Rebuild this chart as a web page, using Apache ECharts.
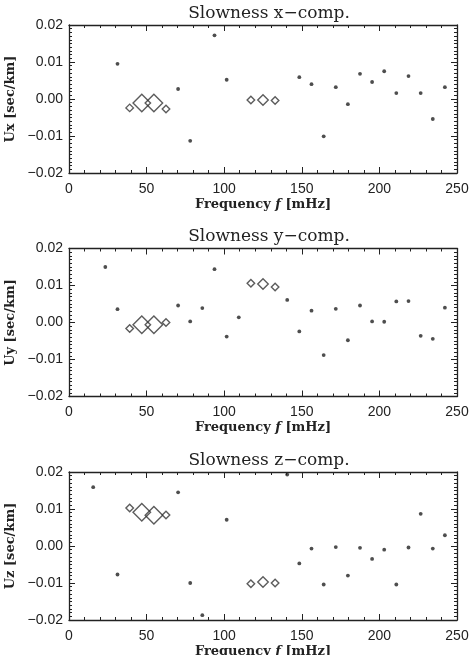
<!DOCTYPE html>
<html>
<head>
<meta charset="utf-8">
<script src="https://cdn.jsdelivr.net/npm/echarts@6/dist/echarts.min.js"></script>
<style>
  html, body { margin: 0; padding: 0; background: #fff; }
  #main { width: 471px; height: 655px; }
</style>
</head>
<body>
<div id="main"></div>
<script>
// frequency bins (mHz)
var freqX = [31.25, 70.3, 78.1, 93.75, 101.6, 148.4, 156.25, 164.1, 171.9, 179.7, 187.5, 195.3, 203.1, 210.9, 218.75, 226.6, 234.4, 242.2];
var dotsX = [0.0095, 0.0027, -0.0113, 0.0172, 0.0052, 0.0059, 0.0040, -0.0101, 0.0032, -0.0014, 0.0068, 0.0046, 0.0075, 0.0016, 0.0062, 0.0016, -0.0054, 0.0032];

var freqY = [23.4, 31.25, 70.3, 78.1, 85.9, 93.75, 101.6, 109.4, 140.6, 148.4, 156.25, 164.1, 171.9, 179.7, 187.5, 195.3, 203.1, 210.9, 218.75, 226.6, 234.4, 242.2];
var dotsY = [0.0150, 0.0036, 0.0046, 0.0003, 0.0039, 0.0144, -0.0038, 0.0014, 0.0061, -0.0024, 0.0032, -0.0088, 0.0037, -0.0048, 0.0046, 0.0003, 0.0002, 0.0057, 0.0058, -0.0036, -0.0044, 0.0040];

var freqZ = [15.6, 31.25, 70.3, 78.1, 85.9, 101.6, 140.6, 148.4, 156.25, 164.1, 171.9, 179.7, 187.5, 195.3, 203.1, 210.9, 218.75, 226.6, 234.4, 242.2];
var dotsZ = [0.0159, -0.0077, 0.0145, -0.0100, -0.0187, 0.0071, 0.0193, -0.0047, -0.0007, -0.0104, -0.0003, -0.0080, -0.0005, -0.0035, -0.0010, -0.0104, -0.0004, 0.0087, -0.0007, 0.0029];

// diamond (grouped) estimates
var freqD = [39.1, 46.9, 54.7, 62.5, 117.2, 125.0, 132.8];
var levelD = [1, 3, 3, 1, 1, 2, 1];   // marker level: 1 small, 2 medium, 3 large
var diamX = [-0.0024, -0.0011, -0.0011, -0.0027, -0.0003, -0.0003, -0.0004];
var diamY = [-0.0016, -0.0006, -0.0006, 0.0000, 0.0106, 0.0104, 0.0096];
var diamZ = [0.0103, 0.0091, 0.0083, 0.0084, -0.0102, -0.0097, -0.0100];

var xTicks = [0, 50, 100, 150, 200, 250];
var yTicks = [-0.02, -0.01, 0.00, 0.01, 0.02];

var titles = ['Slowness x\u2212comp.', 'Slowness y\u2212comp.', 'Slowness z\u2212comp.'];
var yNames = ['Ux [sec/km]', 'Uy [sec/km]', 'Uz [sec/km]'];

var panels = [
    {f: freqX, d: dotsX, diam: diamX},
    {f: freqY, d: dotsY, diam: diamY},
    {f: freqZ, d: dotsZ, diam: diamZ}
];

var ink = '#222';
var tops = [25, 248.5, 472];
var plotH = 148;
var levelPx = {1: 7.5, 2: 10.5, 3: 17.5};

function pairs(xs, ys) {
    return xs.map(function (x, i) { return [x, ys[i]]; });
}

var grids = [], xAxes = [], yAxes = [], series = [], titleOpts = [];

panels.forEach(function (p, k) {
    grids.push({left: 69, width: 388, top: tops[k], height: plotH, show: false,
        containLabel: false, outerBoundsMode: 'none'});
    titleOpts.push({
        text: titles[k],
        left: 264, top: tops[k] - 25, textAlign: 'center',
        textStyle: {fontFamily: 'DejaVu Serif', fontSize: 17, fontWeight: 'normal', color: ink}
    });
    // bottom + top x axes
    xAxes.push({
        gridIndex: k, type: 'value', min: 0, max: 250, interval: 50, position: 'bottom',
        name: '{a|Frequency }{b|f}{a| [mHz]}', nameLocation: 'middle', nameGap: 25,
        nameTextStyle: {rich: {
            a: {fontFamily: 'DejaVu Serif', fontWeight: 'bold', fontSize: 13, color: ink},
            b: {fontFamily: 'DejaVu Serif', fontWeight: 'bold', fontStyle: 'italic', fontSize: 13, color: ink}
        }},
        axisLine: {show: true, onZero: false, lineStyle: {color: ink, width: 1.3}},
        axisTick: {show: true, inside: true, length: 6, lineStyle: {color: ink}},
        minorTick: {show: true, splitNumber: 5, length: 3, lineStyle: {color: ink}},
        axisLabel: {show: true, margin: 9, fontFamily: 'Liberation Sans', fontSize: 14, color: ink,
            formatter: function (v) { return xTicks.indexOf(v) >= 0 ? String(v) : ''; }},
        splitLine: {show: false}
    });
    xAxes.push({
        gridIndex: k, type: 'value', min: 0, max: 250, interval: 50, position: 'top',
        axisLine: {show: true, onZero: false, lineStyle: {color: ink, width: 1.3}},
        axisTick: {show: true, inside: true, length: 6, lineStyle: {color: ink}},
        minorTick: {show: true, splitNumber: 5, length: 3, lineStyle: {color: ink}},
        axisLabel: {show: false}, splitLine: {show: false}
    });
    // left + right y axes
    yAxes.push({
        gridIndex: k, type: 'value', min: -0.02, max: 0.02, interval: 0.01, position: 'left',
        name: yNames[k], nameLocation: 'middle', nameGap: 49, nameRotate: 90,
        nameTextStyle: {fontFamily: 'DejaVu Serif', fontWeight: 'bold', fontSize: 13, color: ink},
        axisLine: {show: true, onZero: false, lineStyle: {color: ink, width: 1.3}},
        axisTick: {show: true, inside: true, length: 6, lineStyle: {color: ink}},
        minorTick: {show: true, splitNumber: 10, length: 3, lineStyle: {color: ink}},
        axisLabel: {show: true, margin: 6, fontFamily: 'Liberation Sans', fontSize: 14, color: ink,
            formatter: function (v) {
                var s = v.toFixed(2);
                return s.charAt(0) === '-' ? '\u2212' + s.slice(1) : s;
            }},
        splitLine: {show: false}
    });
    yAxes.push({
        gridIndex: k, type: 'value', min: -0.02, max: 0.02, interval: 0.01, position: 'right',
        axisLine: {show: true, onZero: false, lineStyle: {color: ink, width: 1.3}},
        axisTick: {show: true, inside: true, length: 6, lineStyle: {color: ink}},
        minorTick: {show: true, splitNumber: 10, length: 3, lineStyle: {color: ink}},
        axisLabel: {show: false}, splitLine: {show: false}
    });

    series.push({
        type: 'scatter', xAxisIndex: 2 * k, yAxisIndex: 2 * k,
        symbol: 'circle', symbolSize: 3.8,
        itemStyle: {color: '#222'},
        data: pairs(p.f, p.d), silent: true
    });
    series.push({
        type: 'scatter', xAxisIndex: 2 * k, yAxisIndex: 2 * k,
        symbol: 'diamond',
        data: p.diam.map(function (v, i) {
            var s = levelPx[levelD[i]];
            return {value: [freqD[i], v], symbolSize: [s, s]};
        }),
        itemStyle: {color: 'rgba(0,0,0,0)', borderColor: '#333', borderWidth: 1.4},
        silent: true
    });
});

var myChart = echarts.init(document.getElementById('main'));
myChart.setOption({
    backgroundColor: '#fff',
    animation: false,
    title: titleOpts,
    grid: grids,
    xAxis: xAxes,
    yAxis: yAxes,
    series: series
});
</script>
</body>
</html>
